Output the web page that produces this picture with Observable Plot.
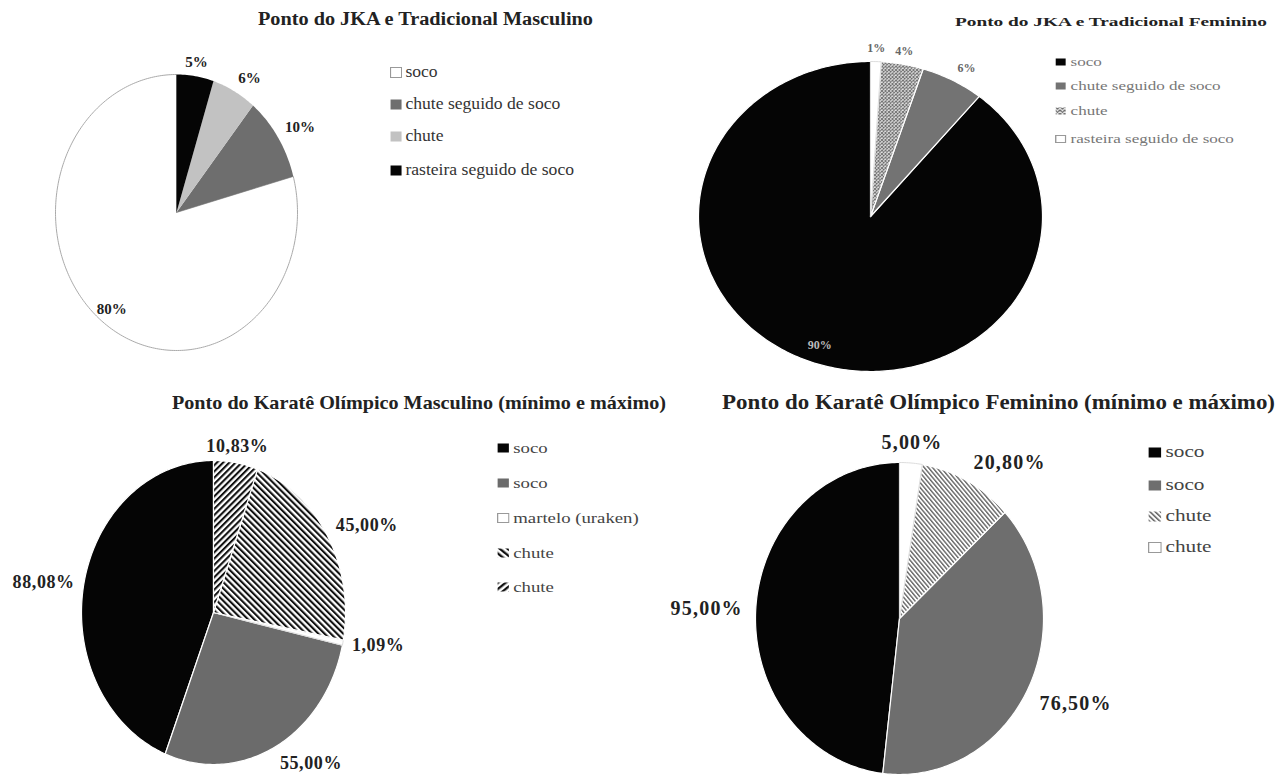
<!DOCTYPE html>
<html><head><meta charset="utf-8">
<script src="https://cdn.jsdelivr.net/npm/d3@7"></script>
<script src="https://cdn.jsdelivr.net/npm/@observablehq/plot@0.6"></script>
<style>
body{margin:0;background:#fff;width:1281px;height:775px;position:relative;overflow:hidden;font-family:"Liberation Serif","Times New Roman",serif;}
.wrap{position:absolute;overflow:hidden;}
.ttl{display:inline-block;white-space:nowrap;font-weight:bold;color:#222;transform-origin:0 0;line-height:1.2;}
.item{position:absolute;white-space:nowrap;display:flex;align-items:center;height:20px;transform-origin:0 50%;}
.item svg{margin-right:3px;flex:none;}
.pie{position:absolute;}
</style></head><body>
<svg width="0" height="0" style="position:absolute">
<defs>
  <pattern id="crossFem" width="3.5" height="3.5" patternUnits="userSpaceOnUse">
    <rect width="3.5" height="3.5" fill="#eee"/>
    <path d="M0,0L3.5,3.5M3.5,0L0,3.5" stroke="#666" stroke-width="0.9"/>
  </pattern>
  <pattern id="stripeMascA" width="4.4" height="10" patternUnits="userSpaceOnUse" patternTransform="rotate(-45)">
    <rect width="4.4" height="10" fill="#fff"/>
    <rect width="2.1" height="10" fill="#111"/>
  </pattern>
  <pattern id="stripeMascB" width="4.4" height="10" patternUnits="userSpaceOnUse" patternTransform="rotate(45)">
    <rect width="4.4" height="10" fill="#fff"/>
    <rect width="2.1" height="10" fill="#111"/>
  </pattern>
  <pattern id="stripeFem" width="3.2" height="10" patternUnits="userSpaceOnUse" patternTransform="rotate(-40)">
    <rect width="3.2" height="10" fill="#fff"/>
    <rect width="1.4" height="10" fill="#666"/>
  </pattern>
</defs></svg>
<script>
// ---------- data ----------
const jkaMascTitle = "Ponto do JKA e Tradicional Masculino";
const jkaMascCategories = ["soco", "chute seguido de soco", "chute", "rasteira seguido de soco"];
const jkaMascValues = [80, 10, 6, 5];

const jkaFemTitle = "Ponto do JKA e Tradicional Feminino";
const jkaFemCategories = ["soco", "chute seguido de soco", "chute", "rasteira seguido de soco"];
const jkaFemValues = [90, 6, 4, 1];

const olimMascTitle = "Ponto do Karatê Olímpico Masculino (mínimo e máximo)";
const olimMascCategories = ["soco", "soco", "martelo (uraken)", "chute", "chute"];
const olimMascValues = [88.08, 55.00, 1.09, 45.00, 10.83];

const olimFemTitle = "Ponto do Karatê Olímpico Feminino (mínimo e máximo)";
const olimFemCategories = ["soco", "soco", "chute", "chute"];
const olimFemValues = [95.00, 76.50, 20.80, 5.00];

// ---------- styles ----------
const jkaMascFills = ["#ffffff", "#6e6e6e", "#c2c2c2", "#050505"];
const jkaFemFills = ["#050505", "#737373", "url(#crossFem)", "#ffffff"];
const olimMascFills = ["#050505", "#6b6b6b", "#ffffff", "url(#stripeMascA)", "url(#stripeMascB)"];
const olimFemFills = ["#050505", "#6e6e6e", "url(#stripeFem)", "#ffffff"];

const panels = [
  {title: jkaMascTitle, cats: jkaMascCategories, vals: jkaMascValues, fills: jkaMascFills, dec: 0,
   cx: 176, cy: 212, rx: 121, ry: 138, sliceStroke: "none", whiteStroke: "#aaa",
   labelSize: 15, labelSpacing: 0, labelColor: "#222", insideColor: "#222", rOut: 1.07,
   t: {left: 258, top: 9, width: 335, size: 18},
   lg: {left: 390, ys: [72, 104, 136, 170], size: 16, color: "#333", sx: 1.1}},
  {title: jkaFemTitle, cats: jkaFemCategories, vals: jkaFemValues, fills: jkaFemFills, dec: 0,
   cx: 870, cy: 216, rx: 172, ry: 155, sliceStroke: "#fff", whiteStroke: "#ddd",
   labelSize: 12, labelSpacing: 0, labelColor: "#666", insideColor: "#bbb", rOut: 1.06,
   t: {left: 955, top: 12, width: 312, size: 12},
   lg: {left: 1055, ys: [62, 86, 111, 139], size: 12, color: "#777", sx: 1.42}},
  {title: olimMascTitle, cats: olimMascCategories, vals: olimMascValues, fills: olimMascFills, dec: 2,
   cx: 213, cy: 612, rx: 132, ry: 152, sliceStroke: "#fff", whiteStroke: "#ddd",
   labelSize: 18, labelSpacing: 0.6, labelColor: "#222", insideColor: "#222", rOut: 1.07,
   t: {left: 172, top: 392, width: 494, size: 19},
   lg: {left: 497, ys: [448, 483, 518, 553, 587], size: 15, color: "#444", sx: 1.25}},
  {title: olimFemTitle, cats: olimFemCategories, vals: olimFemValues, fills: olimFemFills, dec: 2,
   cx: 899, cy: 618, rx: 144, ry: 156, sliceStroke: "#fff", whiteStroke: "#ddd",
   labelSize: 20, labelSpacing: 1.2, labelColor: "#222", insideColor: "#222", rOut: 1.09,
   t: {left: 722, top: 390, width: 553, size: 20},
   lg: {left: 1148, ys: [452, 485, 516, 547], size: 17, color: "#444", sx: 1.25}}
];

const fmt = (v, dec) => dec ? v.toFixed(dec).replace(".", ",") + "%" : v.toFixed(0) + "%";

function drawPanel(p) {
  const m = 100;
  const total = d3.sum(p.vals);
  let cum = 0;
  // slices go counter-clockwise from 12 o'clock (angles measured clockwise from top)
  const slices = p.vals.map((v, i) => {
    const a1 = -cum / total * 2 * Math.PI;
    cum += v;
    const a0 = -cum / total * 2 * Math.PI;
    return {i, v, a0, a1, mid: (a0 + a1) / 2, frac: v / total};
  });
  const marks = [];
  for (const s of slices) {
    const n = Math.max(2, Math.ceil((s.a1 - s.a0) / (Math.PI / 180)));
    const pts = [{x: 0, y: 0}];
    for (let k = 0; k <= n; k++) {
      const t = s.a0 + (s.a1 - s.a0) * k / n;
      pts.push({x: Math.sin(t), y: Math.cos(t)});
    }
    pts.push({x: 0, y: 0});
    const isWhite = p.fills[s.i] === "#ffffff";
    marks.push(Plot.line(pts, {x: "x", y: "y", curve: "linear", fill: p.fills[s.i],
      stroke: isWhite ? p.whiteStroke : p.sliceStroke, strokeWidth: isWhite ? 1 : 1.2, strokeLinejoin: "round"}));
  }
  for (const s of slices) {
    const inside = s.frac > 0.7;
    const r = inside ? 0.88 : p.rOut;
    const sn = Math.sin(s.mid), cs = Math.cos(s.mid);
    const textAnchor = inside ? "middle" : sn > 0.3 ? "start" : sn < -0.3 ? "end" : "middle";
    const lineAnchor = inside ? "middle" : cs > 0.3 ? "bottom" : cs < -0.3 ? "top" : "middle";
    marks.push(Plot.text([s], {x: d => r * Math.sin(d.mid), y: d => r * Math.cos(d.mid),
      text: d => fmt(d.v, p.dec), textAnchor, lineAnchor,
      fontFamily: "Liberation Serif, Times New Roman, serif", fontWeight: "bold",
      fontSize: p.labelSize, fill: inside ? p.insideColor : p.labelColor}));
  }
  const svg = Plot.plot({
    width: 2 * p.rx + 2 * m, height: 2 * p.ry + 2 * m, margin: m,
    x: {domain: [-1, 1], axis: null}, y: {domain: [-1, 1], axis: null},
    style: {background: "transparent", overflow: "visible"},
    marks
  });
  if (p.labelSpacing) svg.querySelectorAll("text").forEach(t => t.setAttribute("letter-spacing", p.labelSpacing));
  svg.classList.add("pie");
  svg.style.left = (p.cx - p.rx - m) + "px";
  svg.style.top = (p.cy - p.ry - m) + "px";
  svg.style.maxWidth = "none";
  document.body.appendChild(svg);

  // title
  const wrap = document.createElement("div");
  wrap.className = "wrap";
  wrap.style.left = p.t.left + "px";
  wrap.style.top = p.t.top + "px";
  wrap.style.width = (p.t.width + 6) + "px";
  wrap.style.height = (p.t.size * 1.4) + "px";
  const span = document.createElement("span");
  span.className = "ttl";
  span.style.fontSize = p.t.size + "px";
  span.textContent = p.title;
  wrap.appendChild(span);
  document.body.appendChild(wrap);
  const w = span.getBoundingClientRect().width;
  span.style.transform = `scaleX(${p.t.width / w})`;

  // legend
  p.cats.forEach((c, i) => {
    const it = document.createElement("div");
    it.className = "item";
    it.style.left = p.lg.left + "px";
    it.style.top = (p.lg.ys[i] - 10) + "px";
    it.style.fontSize = p.lg.size + "px";
    it.style.color = p.lg.color;
    if (p.lg.sx !== 1) it.style.transform = `scaleX(${p.lg.sx})`;
    const sz = Math.round(p.lg.size * 0.66);
    const fill = p.fills[i];
    const stroke = fill === "#ffffff" ? "#999" : "none";
    it.innerHTML = `<svg width="${sz}" height="${sz}"><rect x="0.5" y="0.5" width="${sz - 1}" height="${sz - 1}" fill="${fill}" stroke="${stroke}"/></svg><span>${c}</span>`;
    document.body.appendChild(it);
  });
}
panels.forEach(drawPanel);
</script>
</body></html>
